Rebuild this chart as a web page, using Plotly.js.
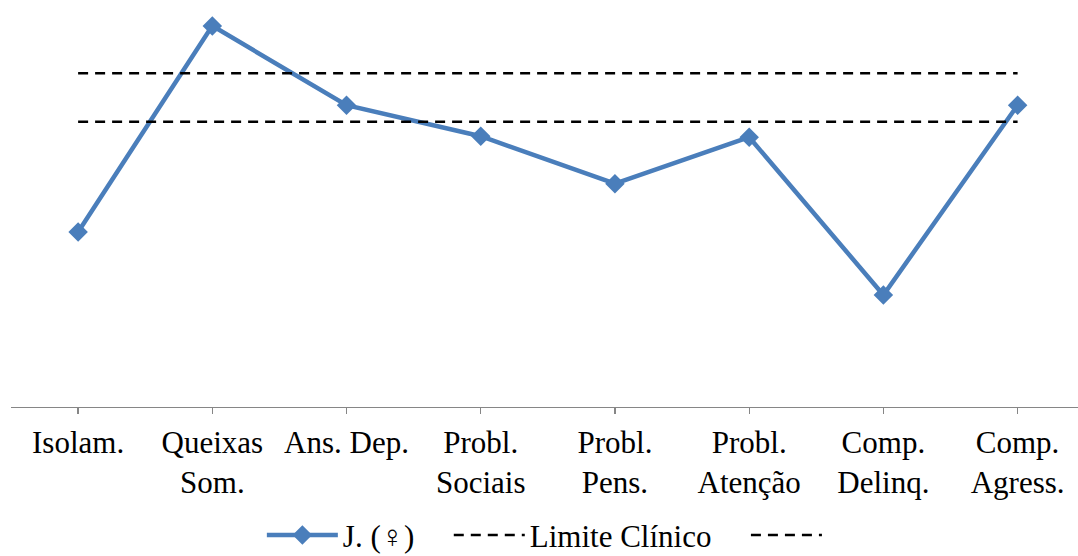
<!DOCTYPE html>
<html>
<head>
<meta charset="utf-8">
<script src="https://cdn.plot.ly/plotly-3.0.1.min.js"></script>
<style>html,body{margin:0;padding:0;background:#fff;}#chart{width:1078px;height:556px;}</style>
</head>
<body>
<div id="chart"></div>
<script>
const categories = ["Isolam.", "Queixas<br>Som.", "Ans. Dep.", "Probl.<br>Sociais", "Probl.<br>Pens.", "Probl.<br>Atenção", "Comp.<br>Delinq.", "Comp.<br>Agress."];
const seriesJ = [53.6, 74.9, 66.7, 63.5, 58.6, 63.4, 47.1, 66.7];
const limiteClinico = [70, 70, 70, 70, 70, 70, 70, 70];
const limiteInferior = [65, 65, 65, 65, 65, 65, 65, 65];
const tickPositions = [0, 1, 2, 3, 4, 5, 6, 7];

const font = {family: "'Liberation Serif', 'Times New Roman', serif", size: 31, color: "#000"};

const traces = [
  {x: categories, y: seriesJ, type: "scatter", mode: "lines+markers", name: "J. (♀)\u00a0\u00a0\u00a0\u2009",
   line: {color: "#4A7EBB", width: 4.5}, marker: {symbol: "diamond", size: 15, color: "#4A7EBB"}},
  {x: categories, y: limiteClinico, type: "scatter", mode: "lines", name: "Limite Clínico\u00a0\u00a0\u00a0\u2009",
   line: {color: "#000", width: 2.5, dash: "10px,7px"}},
  {x: categories, y: limiteInferior, type: "scatter", mode: "lines", name: " ",
   line: {color: "#000", width: 2.5, dash: "10px,7px"}}
];

const layout = {
  width: 1078, height: 556,
  margin: {l: 11, r: 0, t: 10, b: 149, autoexpand: false},
  paper_bgcolor: "#fff", plot_bgcolor: "#fff",
  font: font,
  showlegend: true,
  legend: {orientation: "h", x: 0.511, xanchor: "center", xref: "container",
           y: 0.037, yanchor: "middle", yref: "container",
           font: font, itemwidth: 71, traceorder: "normal"},
  xaxis: {type: "category", range: [-0.5, 7.45], showgrid: false, zeroline: false,
          showline: true, linecolor: "#868686", linewidth: 1.3, automargin: false,
          ticks: "outside", ticklen: 6, tickcolor: "#868686", tickwidth: 1.3,
          tickfont: font, ticklabelstandoff: 1, fixedrange: true},
  xaxis2: {overlaying: "x", anchor: "y", side: "bottom", range: [-0.5, 7.45],
           tickmode: "array", tickvals: tickPositions, showticklabels: false,
           ticks: "inside", ticklen: 6, tickcolor: "#868686", tickwidth: 1.3,
           showline: false, showgrid: false, zeroline: false, automargin: false},
  yaxis: {range: [35.53, 76.54], visible: false, showgrid: false, zeroline: false, fixedrange: true, automargin: false}
};

Plotly.newPlot("chart", traces, layout, {displayModeBar: false, staticPlot: true});
</script>
</body>
</html>
